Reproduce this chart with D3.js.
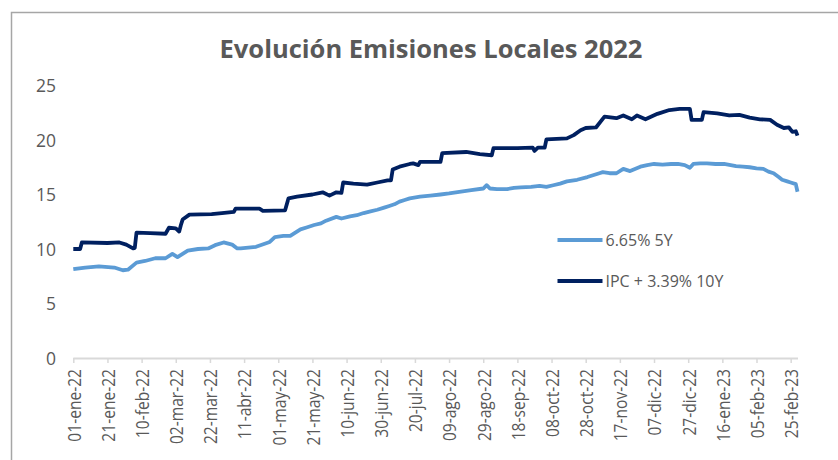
<!DOCTYPE html>
<html>
<head>
<meta charset="utf-8">
<script src="https://cdn.jsdelivr.net/npm/d3@7"></script>
<style>
  html, body { margin: 0; padding: 0; background: #ffffff; }
  svg { display: block; }
</style>
</head>
<body>
<svg id="chart" width="838" height="460"></svg>
<script>
// ---------- DATA ----------
const chartTitle = "Evolución Emisiones Locales 2022";
const seriesNames = ["6.65% 5Y", "IPC + 3.39% 10Y"];
const startDate = "2022-01-01";
const endDate = "2023-03-01";

// 6.65% 5Y : days since 01-ene-22 and yield values
const fiveDays = [0, 7, 15, 24, 29, 32, 37, 42, 48, 54, 58, 61, 67, 73, 79, 83, 88, 93, 96, 98,
  107, 115, 118, 123, 127, 133, 137, 141, 145, 148, 154, 157, 162, 166, 170, 174, 178, 182, 185, 188, 191, 194, 197,
  203, 209, 215, 220, 226, 233, 240, 242, 244, 248, 254, 258, 262, 268, 273, 277, 281, 285, 289, 295, 301, 308, 310,
  314, 318, 322, 326, 332, 336, 340, 345, 350, 354, 358, 361, 363, 367, 371, 376, 381, 388, 392, 396, 400, 404,
  407, 410, 413, 415, 418, 420, 423, 424];
const fiveValues = [8.15, 8.3, 8.4, 8.3, 8.05, 8.1, 8.75, 8.9, 9.15, 9.15, 9.55, 9.25, 9.85, 10.0, 10.05, 10.35, 10.6, 10.4, 10.05, 10.05,
  10.2, 10.65, 11.1, 11.2, 11.2, 11.8, 12.0, 12.2, 12.35, 12.6, 12.95, 12.8, 13.0, 13.1, 13.3, 13.45, 13.6, 13.8, 13.95, 14.1, 14.35, 14.5, 14.65,
  14.8, 14.9, 15.0, 15.1, 15.25, 15.4, 15.55, 15.85, 15.55, 15.5, 15.5, 15.6, 15.65, 15.7, 15.8, 15.7, 15.85, 16.0, 16.2, 16.35, 16.6, 16.95, 17.05,
  16.95, 16.95, 17.35, 17.15, 17.55, 17.7, 17.8, 17.75, 17.8, 17.8, 17.7, 17.45, 17.8, 17.85, 17.85, 17.8, 17.8, 17.6, 17.55, 17.5, 17.4, 17.35,
  17.1, 16.95, 16.6, 16.35, 16.2, 16.1, 15.95, 15.25];

// IPC + 3.39% 10Y : days since 01-ene-22 and yield values
const ipcDays = [0, 4, 5, 20, 27, 31, 35, 36, 37, 45, 54, 56, 60, 62, 63, 64, 68, 81, 87, 94, 95, 109, 111, 124, 126,
  131, 140, 146, 150, 154, 157, 158, 164, 172, 178, 184, 186, 187, 191, 197, 199, 202, 203, 215, 216, 230, 238, 245, 246,
  260, 269, 270, 272, 275, 276, 277, 289, 293, 297, 300, 306, 311, 318, 322, 327, 330, 335, 342, 349, 355, 361, 362, 368, 369,
  377, 384, 390, 396, 402, 408, 412, 416, 419, 421, 423, 424];
const ipcValues = [10.0, 10.0, 10.6, 10.55, 10.6, 10.4, 10.05, 10.1, 11.5, 11.45, 11.4, 11.95, 11.9, 11.6, 12.2, 12.7, 13.15, 13.2, 13.3, 13.4, 13.7, 13.7, 13.5, 13.55, 14.65,
  14.8, 15.0, 15.2, 14.9, 15.2, 15.15, 16.1, 16.0, 15.9, 16.1, 16.3, 16.3, 17.3, 17.55, 17.8, 17.85, 17.7, 18.0, 18.0, 18.8, 18.9, 18.7, 18.6, 19.25,
  19.25, 19.3, 19.0, 19.3, 19.3, 19.3, 20.05, 20.15, 20.45, 20.9, 21.1, 21.15, 22.15, 22.0, 22.25, 21.9, 22.25, 21.9, 22.4, 22.75, 22.85, 22.85, 21.85, 21.85, 22.55,
  22.45, 22.25, 22.3, 22.05, 21.9, 21.85, 21.4, 21.1, 21.15, 20.75, 20.8, 20.4];

const yTicks = [0, 5, 10, 15, 20, 25];
const xTickLabels = ["01-ene-22", "21-ene-22", "10-feb-22", "02-mar-22", "22-mar-22", "11-abr-22",
  "01-may-22", "21-may-22", "10-jun-22", "30-jun-22", "20-jul-22", "09-ago-22", "29-ago-22",
  "18-sep-22", "08-oct-22", "28-oct-22", "17-nov-22", "07-dic-22", "27-dic-22", "16-ene-23",
  "05-feb-23", "25-feb-23"];
const monthAbbr = ["ene", "feb", "mar", "abr", "may", "jun", "jul", "ago", "sep", "oct", "nov", "dic"];

// ---------- LAYOUT ----------
const W = 838, H = 460;
const plot = { left: 73.3, right: 797.5, top: 85.5, bottom: 358 };
const colors = { five: "#5b9bd5", ipc: "#002060", text: "#595959", axis: "#d9d9d9", border: "#a6a6a6" };
const font = "'Open Sans', 'Noto Sans', sans-serif";

const svg = d3.select("#chart");

const parseISO = d3.timeParse("%Y-%m-%d");
const t0 = parseISO(startDate), t1 = parseISO(endDate);
const dayToDate = d => d3.timeDay.offset(t0, d);
const parseLabel = s => {
  const [dd, mm, yy] = s.split("-");
  return new Date(2000 + (+yy), monthAbbr.indexOf(mm), +dd);
};

const x = d3.scaleTime().domain([t0, t1]).range([plot.left, plot.right]);
const y = d3.scaleLinear().domain([0, 25]).range([plot.bottom, plot.top]);

// outer chart border (top and left edges visible)
svg.append("path")
  .attr("d", `M11.5,${H} V12.5 H${W}`)
  .attr("fill", "none")
  .attr("stroke", colors.border)
  .attr("stroke-width", 1.5);

// title
svg.append("text")
  .attr("x", 431).attr("y", 58)
  .attr("text-anchor", "middle")
  .attr("font-family", font)
  .attr("font-weight", "bold")
  .attr("font-size", 25.5)
  .attr("fill", colors.text)
  .text(chartTitle);

// y axis (labels only)
const yAxis = d3.axisLeft(y).tickValues(yTicks).tickSize(0).tickPadding(0).tickFormat(d3.format("d"));
const gy = svg.append("g").attr("transform", "translate(56,0)").call(yAxis);
gy.select(".domain").remove();
gy.selectAll("text")
  .attr("font-family", font)
  .attr("font-size", 17.5)
  .attr("fill", colors.text)
  .attr("dy", "0.36em");

// x axis
const xAxis = d3.axisBottom(x)
  .tickValues(xTickLabels.map(parseLabel))
  .tickSize(5)
  .tickFormat((d, i) => xTickLabels[i]);
const gx = svg.append("g").attr("transform", `translate(0,${plot.bottom})`).call(xAxis);
gx.select(".domain")
  .attr("d", `M${plot.left},0.5H${plot.right + 0.5}`)
  .attr("stroke", colors.axis)
  .attr("stroke-width", 2);
gx.selectAll(".tick line").attr("stroke", colors.axis).attr("stroke-width", 1.5);
gx.selectAll(".tick text")
  .attr("font-family", font)
  .attr("font-size", 19)
  .attr("fill", colors.text)
  .attr("text-anchor", "end")
  .attr("x", 0).attr("y", 0).attr("dy", "0.36em")
  .attr("transform", "translate(0,11) rotate(-90) scale(0.82,1)");

// lines
const line = d3.line().x(d => x(dayToDate(d[0]))).y(d => y(d[1]));
const fiveData = d3.zip(fiveDays, fiveValues);
const ipcData = d3.zip(ipcDays, ipcValues);

svg.append("path").datum(fiveData)
  .attr("d", line)
  .attr("fill", "none")
  .attr("stroke", colors.five)
  .attr("stroke-width", 3.8)
  .attr("stroke-linejoin", "round");

svg.append("path").datum(ipcData)
  .attr("d", line)
  .attr("fill", "none")
  .attr("stroke", colors.ipc)
  .attr("stroke-width", 3.8)
  .attr("stroke-linejoin", "round");

// legend
const legendItems = [
  { name: seriesNames[0], color: colors.five, y: 240 },
  { name: seriesNames[1], color: colors.ipc, y: 281 }
];
const lg = svg.append("g");
legendItems.forEach(it => {
  lg.append("line")
    .attr("x1", 557.5).attr("x2", 602.5)
    .attr("y1", it.y).attr("y2", it.y)
    .attr("stroke", it.color).attr("stroke-width", 3.8);
  lg.append("text")
    .attr("x", 605.5).attr("y", it.y).attr("dy", "0.36em")
    .attr("font-family", font).attr("font-size", 16)
    .attr("fill", colors.text)
    .text(it.name);
});
</script>
</body>
</html>
